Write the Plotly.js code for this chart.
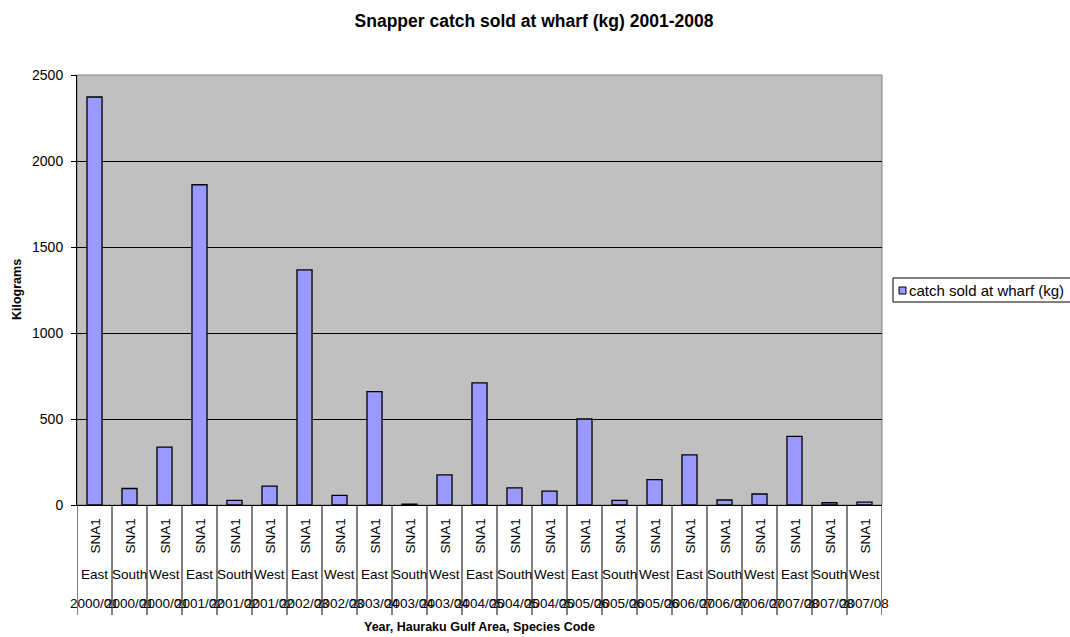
<!DOCTYPE html>
<html>
<head>
<meta charset="utf-8">
<script src="https://cdn.plot.ly/plotly-3.0.1.min.js"></script>
<style>html,body{margin:0;padding:0;background:#fff;}#chart{width:1070px;height:637px;}</style>
</head>
<body>
<div id="chart"></div>
<script>
const years = ["2000/01","2000/01","2000/01","2001/02","2001/02","2001/02","2002/03","2002/03","2003/04","2003/04","2003/04","2004/05","2004/05","2004/05","2005/06","2005/06","2005/06","2006/07","2006/07","2006/07","2007/08","2007/08","2007/08"];
const areas = ["East","South","West","East","South","West","East","West","East","South","West","East","South","West","East","South","West","East","South","West","East","South","West"];
const species = ["SNA1","SNA1","SNA1","SNA1","SNA1","SNA1","SNA1","SNA1","SNA1","SNA1","SNA1","SNA1","SNA1","SNA1","SNA1","SNA1","SNA1","SNA1","SNA1","SNA1","SNA1","SNA1","SNA1"];
const catchKg = [2372, 96, 337, 1862, 27, 110, 1367, 56, 659, 5, 175, 710, 100, 81, 500, 27, 147, 291, 29, 64, 399, 13, 17];
const yTicks = [0, 500, 1000, 1500, 2000, 2500];
const seriesName = "catch sold at wharf (kg)";

const FONT = "Liberation Sans, Arial, sans-serif";
const W = 1070, H = 637, ML = 77, MR = 188, MT = 75, MB = 132;
const PW = W - ML - MR, PH = H - MT - MB;
const px = x => (x - ML) / PW;       // pixel -> paper x
const py = y => (H - MB - y) / PH;   // pixel -> paper y
const idx = catchKg.map((_, i) => i);

const annotations = [];
const shapes = [];
idx.forEach(i => {
  annotations.push({xref:'x', yref:'paper', x:i, y:0, yanchor:'middle', xanchor:'center', yshift:-31, text:species[i], textangle:-90, showarrow:false, font:{family:FONT, size:13.5, color:'#000'}});
  annotations.push({xref:'x', yref:'paper', x:i, y:0, yanchor:'middle', xanchor:'center', yshift:-69, text:areas[i], showarrow:false, font:{family:FONT, size:13.5, color:'#000'}});
  annotations.push({xref:'x', yref:'paper', x:i, y:0, yanchor:'middle', xanchor:'center', yshift:-98, text:years[i], showarrow:false, font:{family:FONT, size:13.5, color:'#000'}});
});
for (let i = 0; i <= catchKg.length; i++) {
  shapes.push({type:'line', xref:'x', yref:'paper', x0:i-0.5, x1:i-0.5, y0:0, y1:py(615), line:{color:'#000', width:1}});
}
shapes.push({type:'rect', xref:'paper', yref:'paper', x0:0, x1:1, y0:0, y1:1, line:{color:'#808080', width:1}, layer:'below'});

// axis titles
annotations.push({xref:'paper', yref:'paper', x:0.5, y:py(627), yanchor:'middle', xanchor:'center', text:'<b>Year, Hauraku Gulf Area, Species Code</b>', showarrow:false, font:{family:FONT, size:12.5, color:'#000'}});
annotations.push({xref:'paper', yref:'paper', x:px(17), y:0.5, yanchor:'middle', xanchor:'center', textangle:-90, text:'<b>Kilograms</b>', showarrow:false, font:{family:FONT, size:12.5, color:'#000'}});

// legend (drawn)
shapes.push({type:'rect', xref:'paper', yref:'paper', x0:px(893), x1:px(1075), y0:py(302), y1:py(278), line:{color:'#000', width:1}, fillcolor:'#fff'});
shapes.push({type:'rect', xref:'paper', yref:'paper', x0:px(899), x1:px(906), y0:py(294), y1:py(287), line:{color:'#000', width:1}, fillcolor:'#9999FF'});
annotations.push({xref:'paper', yref:'paper', x:px(907), y:py(290), xanchor:'left', yanchor:'middle', text:seriesName, showarrow:false, font:{family:FONT, size:15, color:'#000'}});

const trace = {
  type:'bar', x: idx, y: catchKg, name: seriesName,
  width: 0.43,
  marker:{color:'#9999FF', line:{color:'#000', width:1.3}},
  hoverinfo:'y'
};

const layout = {
  width:W, height:H,
  margin:{l:ML, r:MR, t:MT, b:MB},
  paper_bgcolor:'#fff', plot_bgcolor:'#C0C0C0',
  title:{text:'<b>Snapper catch sold at wharf (kg) 2001-2008</b>', font:{family:FONT, size:17.5, color:'#000'}, x:534/W, xanchor:'center', y:1-21/H, yanchor:'middle', yref:'container'},
  xaxis:{range:[-0.5, catchKg.length-0.5], showticklabels:false, ticks:'', showgrid:false, zeroline:false, showline:true, linecolor:'#000', linewidth:1},
  yaxis:{range:[0, 2500], tickvals:yTicks, ticktext:yTicks.map(String), showgrid:true, gridcolor:'#000', gridwidth:1, zeroline:false,
    showline:true, linecolor:'#000', linewidth:1, ticks:'outside', ticklen:5, tickcolor:'#000', ticklabelstandoff:5,
    tickfont:{family:FONT, size:14, color:'#000'}},
  showlegend:false,
  annotations: annotations,
  shapes: shapes,
  bargap:0
};

Plotly.newPlot('chart', [trace], layout, {displayModeBar:false, staticPlot:true});
</script>
</body>
</html>
